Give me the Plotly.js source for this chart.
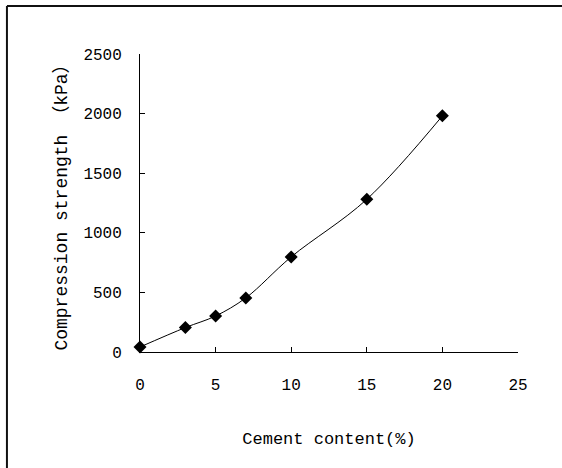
<!DOCTYPE html>
<html>
<head>
<meta charset="utf-8">
<script src="https://cdn.plot.ly/plotly-3.0.1.min.js"></script>
<style>html,body{margin:0;padding:0;background:#fff;}#chart{width:562px;height:468px;}</style>
</head>
<body>
<div id="chart"></div>
<script>
const cementContent = [0, 3, 5, 7, 10, 15, 20];
const strengthKPa = [42, 205, 302, 454, 798, 1281, 1981];
const xTickVals = [0, 5, 10, 15, 20, 25];
const yTickVals = [0, 500, 1000, 1500, 2000, 2500];
const xTitle = "Cement content(%)";
const yTitle = "Compression strength （kPa）";

const fontFam = "Liberation Mono, 'Noto Sans CJK SC', monospace";

const trace = {
  x: cementContent,
  y: strengthKPa,
  type: "scatter",
  mode: "lines+markers",
  line: {color: "#000", width: 1, shape: "spline", smoothing: 1},
  marker: {symbol: "diamond", size: 10, color: "#000"},
  cliponaxis: false,
  showlegend: false,
  hoverinfo: "skip"
};

const layout = {
  width: 562, height: 468,
  margin: {l: 140, r: 44, t: 54, b: 116},
  paper_bgcolor: "#fff", plot_bgcolor: "#fff",
  font: {family: fontFam, size: 16, color: "#000"},
  xaxis: {
    range: [0, 25], tickvals: xTickVals, ticktext: xTickVals.map(String),
    showline: true, linecolor: "#000", linewidth: 1,
    ticks: "inside", ticklen: 5, tickcolor: "#000", tickwidth: 1,
    showgrid: false, zeroline: false, fixedrange: true,
    ticklabelstandoff: 18,
    tickfont: {family: fontFam, size: 16, color: "#000"},
    title: {text: xTitle, font: {family: fontFam, size: 17, color: "#000"}, standoff: 37}
  },
  yaxis: {
    range: [0, 2500], tickvals: yTickVals, ticktext: yTickVals.map(String),
    showline: true, linecolor: "#000", linewidth: 1,
    ticks: "inside", ticklen: 5, tickcolor: "#000", tickwidth: 1,
    showgrid: false, zeroline: false, fixedrange: true,
    ticklabelstandoff: 14,
    tickfont: {family: fontFam, size: 16, color: "#000"},
    title: {text: yTitle, font: {family: fontFam, size: 18, color: "#000"}, standoff: 11}
  },
  shapes: [
    {type: "line", xref: "paper", yref: "paper", x0: -0.352, x1: -0.352, y0: -0.42, y1: 1.161, line: {color: "#111", width: 2}},
    {type: "line", xref: "paper", yref: "paper", x0: -0.352, x1: 1.13, y0: 1.161, y1: 1.161, line: {color: "#111", width: 2}}
  ]
};

Plotly.newPlot("chart", [trace], layout, {displayModeBar: false, staticPlot: true});
</script>
</body>
</html>
